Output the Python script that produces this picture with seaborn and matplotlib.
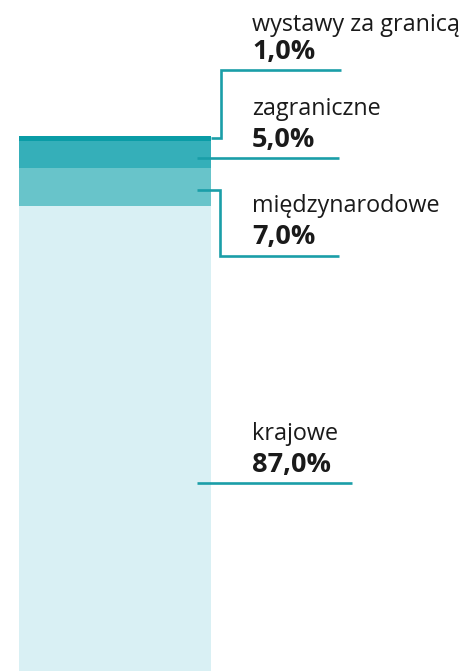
import pandas as pd
import seaborn as sns
import matplotlib.pyplot as plt

# data, bottom to top of the stack
categories = ["krajowe", "międzynarodowe", "zagraniczne", "wystawy za granicą"]
shares = [87.0, 7.0, 5.0, 1.0]
share_labels = ["87,0%", "7,0%", "5,0%", "1,0%"]
colors = ["#d9f0f4", "#68c4ca", "#35afb9", "#0a9ca6"]

line_color = "#1a9ea8"
text_color = "#1a1a1a"

sns.set_theme(style="white")
plt.rcParams['font.family'] = ['Open Sans', 'DejaVu Sans']

W, H = 468, 671
fig = plt.figure(figsize=(W / 100, H / 100), dpi=100)
ax = fig.add_axes([0, 0, 1, 1])

# cumulative tops, drawn biggest first so smaller ones sit on top
cum = pd.Series(shares).cumsum().tolist()
for top, col in reversed(list(zip(cum, colors))):
    df = pd.DataFrame({"g": ["a"], "v": [top]})
    sns.barplot(data=df, x="g", y="v", color=col, width=0.8,
                saturation=1, errorbar=None, ax=ax, linewidth=0)

# pixel -> data helpers (bar centre at px 115, 240 px per x unit, 5.35 px per %)
def dx(p):
    return (p - 115) / 240.0

def dy(p):
    return (H - p) / 5.35

ax.set_xlim(dx(0), dx(W))
ax.set_ylim(0, dy(0))
ax.axis("off")

lw = 1.9
# leader lines (layout only)
leaders = {
    "wystawy za granicą": [(211, 138), (221, 138), (221, 70), (341, 70)],
    "zagraniczne": [(197, 158.5), (339, 158.5)],
    "międzynarodowe": [(197, 190.5), (220, 190.5), (220, 256), (339, 256)],
    "krajowe": [(197, 483), (352, 483)],
}
for name, pts in leaders.items():
    ax.plot([dx(p[0]) for p in pts], [dy(p[1]) for p in pts],
            color=line_color, lw=lw, solid_capstyle="butt", solid_joinstyle="miter")

# label positions (name baseline, value baseline)
label_pos = {
    "wystawy za granicą": (31, 59),
    "zagraniczne": (115, 147),
    "międzynarodowe": (212, 244),
    "krajowe": (440, 472),
}
for name, val in zip(categories, share_labels):
    y1, y2 = label_pos[name]
    ax.text(dx(252), dy(y1), name, fontsize=16.8, color=text_color, va="baseline", ha="left")
    ax.text(dx(252), dy(y2), val, fontsize=19.5, fontweight="bold", color=text_color,
            va="baseline", ha="left")

plt.savefig("out.png", dpi=100)
